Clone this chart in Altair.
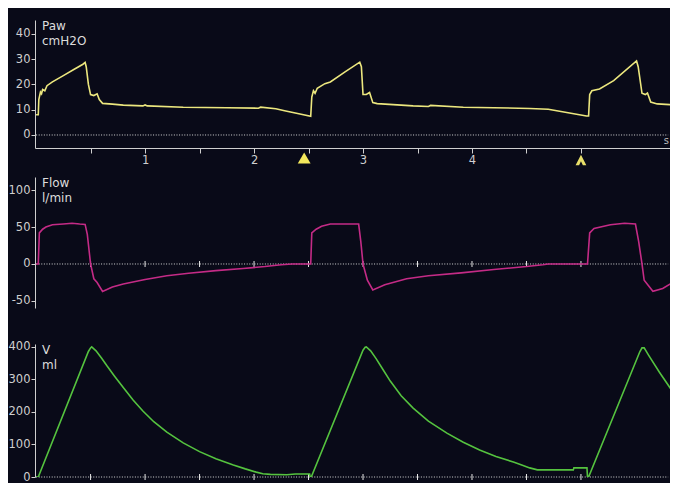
import altair as alt
import pandas as pd

# ---------------- data ----------------
paw_t = [0.00, 0.02, 0.025, 0.04, 0.05, 0.06, 0.08, 0.10, 0.15, 0.25, 0.35, 0.43, 0.45, 0.46, 0.48, 0.50,
         0.53, 0.56, 0.58, 0.61, 0.70, 0.80, 0.98, 1.00, 1.02, 1.35, 1.75, 2.04, 2.06, 2.20, 2.28, 2.40, 2.52,
         2.53, 2.545, 2.56, 2.58, 2.65, 2.70, 2.835, 2.97, 2.985, 3.0, 3.03, 3.06, 3.09, 3.13, 3.46, 3.60, 3.62,
         3.92, 4.20, 4.53, 4.70, 4.83, 5.05, 5.07, 5.08, 5.10, 5.17, 5.30, 5.51, 5.525, 5.56, 5.59, 5.61, 5.64,
         5.70, 5.82]
paw_v = [8.0, 8.0, 14.0, 17.0, 16.3, 18.0, 17.5, 19.5, 21.0, 23.5, 26.0, 28.0, 28.7, 27.0, 20.0, 16.0,
         15.6, 16.3, 14.0, 12.5, 12.2, 11.8, 11.5, 11.9, 11.5, 11.0, 10.8, 10.6, 11.0, 10.4, 9.6, 8.5, 7.4,
         15.0, 17.5, 16.5, 18.5, 20.3, 21.0, 25.0, 28.8, 27.0, 16.0, 16.0, 16.8, 12.8, 12.4, 11.5, 11.3, 11.7,
         11.0, 10.8, 10.5, 10.2, 9.2, 7.5, 7.5, 16.0, 17.5, 18.2, 21.5, 29.3, 27.0, 16.5, 16.0, 16.6, 13.0,
         12.3, 12.0]

flow_t = [0.00, 0.02, 0.03, 0.06, 0.09, 0.15, 0.25, 0.33, 0.40, 0.45, 0.47, 0.50, 0.53, 0.56, 0.61, 0.70,
          0.80, 1.00, 1.20, 1.40, 1.65, 1.90, 2.10, 2.25, 2.35, 2.52, 2.53, 2.57, 2.62, 2.70, 2.96, 2.98, 3.00,
          3.04, 3.09, 3.20, 3.40, 3.60, 3.90, 4.20, 4.50, 4.65, 4.70, 5.06, 5.08, 5.12, 5.27, 5.40, 5.50, 5.53,
          5.56, 5.58, 5.66, 5.75, 5.82]
flow_v = [0, 0, 42, 47, 50, 53, 54, 55, 54, 53.5, 40, 0, -20, -25, -37, -31,
          -27, -21, -16, -12.5, -9, -6, -3.5, -1, 0, 0, 42, 47, 51, 54, 54, 30, 0,
          -22, -35, -28, -20, -16, -12, -7.5, -3.5, -1, 0, 0, 42, 48, 53, 55, 54, 30,
          0, -22, -37, -33, -27]

vol_t = [0.00, 0.02, 0.48, 0.50, 0.51, 0.55, 0.60, 0.65, 0.72, 0.80, 0.89, 0.98, 1.08, 1.20, 1.35,
         1.50, 1.65, 1.81, 1.92, 2.02, 2.08, 2.15, 2.30, 2.38, 2.51, 2.515, 2.525,
         3.00, 3.02, 3.03, 3.07, 3.12, 3.18, 3.25, 3.35, 3.46, 3.60, 3.77, 3.92, 4.07, 4.22, 4.38,
         4.45, 4.53, 4.60, 4.93, 4.935, 5.055, 5.06, 5.07, 5.54, 5.56, 5.58, 5.62, 5.72, 5.83]
vol_v = [0, 0, 386, 397, 400, 388, 366, 342, 310, 275, 237, 203, 170, 138, 105,
         78, 56, 37, 25, 15, 10, 8, 7, 9, 9, 0, 0,
         390, 399, 400, 388, 364, 332, 295, 250, 212, 172, 135, 107, 83, 63, 46,
         38, 28, 22, 22, 28, 28, 0, 0, 385, 397, 397, 375, 322, 268]

half_ticks = [0.5, 1.0, 1.5, 2.0, 2.5, 3.0, 3.5, 4.0, 4.5, 5.0]
paw_axis_values = [0, 10, 20, 30, 40]
flow_axis_values = [-50, 0, 50, 100]
vol_axis_values = [0, 100, 200, 300, 400]
trigger_t = [2.46]
spont_t = [5.0]

# ---------------- styling ----------------
BG = "#090a18"
AXC = "#cfcfcf"
FONT = "DejaVu Sans"
W = 635
XDOM = [-0.01, 5.817]
ZERO_END = 5.80


def y_axis(values):
    return alt.Axis(values=values, labelExpr="datum.value < 0 ? '-' + abs(datum.value) : '' + datum.value",
                    tickSize=4, labelPadding=1, grid=False, title=None,
                    domainColor=AXC, tickColor=AXC, labelColor=AXC,
                    labelFont=FONT, labelFontSize=11.5, labelOverlap=False, labelFlush=False)


def panel(t, v, color, ydom, yvals, h, name, unit, xaxis=None, zero_ticks=True, extra=None, top_gap=0):
    X = alt.X("t:Q", scale=alt.Scale(domain=XDOM, nice=False, zero=False), axis=xaxis)
    Y = alt.Y("v:Q", scale=alt.Scale(domain=ydom, nice=False, zero=False), axis=y_axis(yvals))
    df = pd.DataFrame({"t": t, "v": v})
    zdf = pd.DataFrame({"t": [0.0], "t2": [ZERO_END], "v": [0]})
    zero = alt.Chart(zdf).mark_rule(color="#d8d8d8", strokeDash=[1, 1.6], strokeWidth=1).encode(
        x=X, x2="t2:Q", y=Y)
    layers = [zero]
    if zero_ticks:
        tdf = pd.DataFrame({"t": half_ticks, "v": [0] * len(half_ticks)})
        layers.append(alt.Chart(tdf).mark_point(shape="M0,-1L0,1", filled=False, color="#e8e8e8",
                                                size=36, strokeWidth=1, opacity=1).encode(x=X, y=Y))
    line = alt.Chart(df).mark_line(color=color, strokeWidth=1.6, clip=True).encode(x=X, y=Y)
    layers.append(line)
    if extra:
        layers.extend(extra(X, h))
    lab = alt.Chart(pd.DataFrame({"a": [0]})).mark_text(
        text=[name, unit], align="left", baseline="top", color="#dcdcdc", font=FONT, fontSize=12,
        lineHeight=15).encode(x=alt.value(7), y=alt.value(1))
    layers.append(lab)
    if top_gap:
        spacer = alt.Chart(pd.DataFrame({"a": [0]})).mark_rule(color=BG, opacity=0).encode(
            x=alt.value(0), y=alt.value(-top_gap), y2=alt.value(0))
        layers.append(spacer)
    return alt.layer(*layers).properties(width=W, height=h)


def paw_extra(X, h):
    tri = alt.Chart(pd.DataFrame({"t": trigger_t})).mark_point(
        shape="triangle-up", filled=True, color="#f3e85c", size=165, opacity=1).encode(
        x=X, y=alt.value(h + 10))
    sp = alt.Chart(pd.DataFrame({"t": spont_t})).mark_point(
        shape="M0,-1L1,1L0.35,1L0,0.25L-0.35,1L-1,1Z", filled=True, color="#e8df6a", size=115,
        opacity=1).encode(x=X, y=alt.value(h + 12))
    s = alt.Chart(pd.DataFrame({"a": [0]})).mark_text(
        text="s", align="right", baseline="middle", color="#bdbdbd", font=FONT, fontSize=10).encode(
        x=alt.value(W - 1), y=alt.value(h - 7))
    return [tri, sp, s]


x_axis_top = alt.Axis(values=half_ticks,
                      labelExpr="(datum.value % 1 == 0 && datum.value < 5) ? format(datum.value, 'd') : ''",
                      tickSize=5, labelPadding=1, grid=False, title=None, domainColor=AXC, tickColor=AXC,
                      labelColor=AXC, labelFont=FONT, labelFontSize=11.5, labelOverlap=False, labelFlush=False)

p1 = panel(paw_t, paw_v, "#ece77e", [-5.15, 45.5], paw_axis_values, 128, "Paw", "cmH2O",
           xaxis=x_axis_top, zero_ticks=False, extra=paw_extra)
p2 = panel(flow_t, flow_v, "#c42b86", [-59.5, 117.6], flow_axis_values, 131, "Flow", "l/min")
p3 = panel(vol_t, vol_v, "#55c33f", [0, 409], vol_axis_values, 133, "V", "ml", top_gap=25)

chart = alt.vconcat(p1, p2, p3, spacing=11).properties(
    background=BG, padding={"left": 0, "top": 12, "right": 0, "bottom": 0}
).configure_view(strokeWidth=0)

chart.save("out.html", embed_options={"renderer": "svg", "actions": False})
